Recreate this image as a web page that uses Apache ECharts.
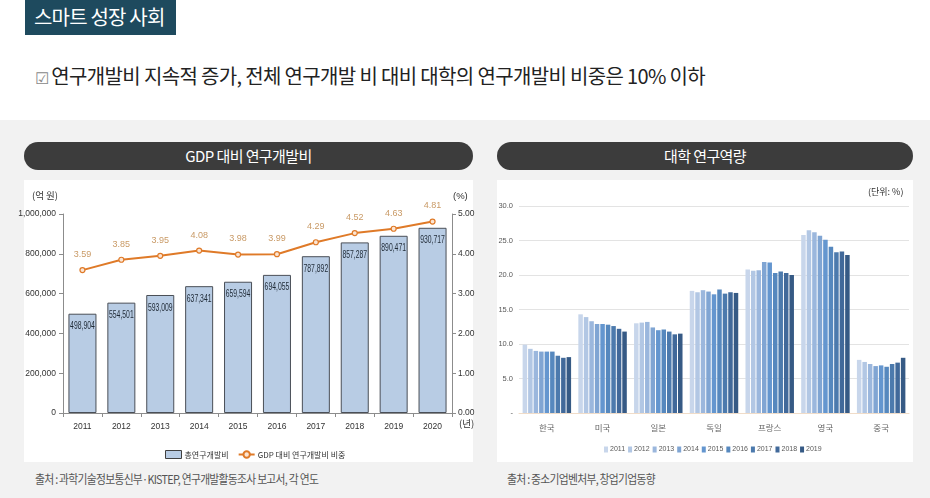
<!DOCTYPE html>
<html><head><meta charset="utf-8">
<script src="https://cdn.jsdelivr.net/npm/echarts@6/dist/echarts.min.js"></script>
<style>
html,body{margin:0;padding:0;width:930px;height:498px;overflow:hidden;background:#fff;font-family:"Noto Sans CJK KR","Noto Sans",sans-serif;}
.abs{position:absolute;}
#hdr{left:25px;top:0;width:151px;height:35px;background:#1e4a5e;color:#fff;font-size:20px;line-height:33px;text-indent:9px;letter-spacing:-0.8px;}
#sub{left:35px;top:61px;font-size:20px;color:#222;letter-spacing:-0.65px;white-space:nowrap;}
#sub .cb{color:#888;font-size:16px;margin-right:3px;}
#panel{left:0;top:120px;width:930px;height:378px;background:#f2f2f2;}
.pill{top:142px;height:28px;background:#3c3c3c;border-radius:14px;color:#fff;font-size:15px;line-height:28px;text-align:center;letter-spacing:-0.6px;}
.box{top:180px;height:282px;background:#fff;}
.src{top:470px;font-size:12px;color:#555;letter-spacing:-0.8px;white-space:nowrap;transform:scaleX(0.9);transform-origin:0 0;}
#chart{left:0;top:0;width:930px;height:498px;}
</style></head>
<body>
<div id="hdr" class="abs">스마트 성장 사회</div>
<div id="sub" class="abs"><span class="cb">☑</span>연구개발비 지속적 증가, 전체 연구개발 비 대비 대학의 연구개발비 비중은 10% 이하</div>
<div id="panel" class="abs"></div>
<div class="abs pill" style="left:24px;width:449px;">GDP 대비 연구개발비</div>
<div class="abs pill" style="left:497px;width:416px;">대학 연구역량</div>
<div class="abs box" style="left:24px;width:449px;"></div>
<div class="abs box" style="left:497px;width:416px;"></div>
<div class="abs src" style="left:35px;">출처 : 과학기술정보통신부·KISTEP, 연구개발활동조사 보고서, 각 연도</div>
<div class="abs src" style="left:507px;">출처 : 중소기업벤처부, 창업기업동향</div>
<div id="chart" class="abs"></div>
<script>
// ---- Left chart data ----
const years = ['2011','2012','2013','2014','2015','2016','2017','2018','2019','2020'];
const rdTotal = [498904, 554501, 593009, 637341, 659594, 694055, 787892, 857287, 890471, 930717];
const rdGdpRatio = [3.59, 3.85, 3.95, 4.08, 3.98, 3.99, 4.29, 4.52, 4.63, 4.81];
const leftTicks = [0, 200000, 400000, 600000, 800000, 1000000];
const rightTicks = [0, 1, 2, 3, 4, 5];

// ---- Right chart data ----
const countries = ['한국','미국','일본','독일','프랑스','영국','중국'];
const seriesYears = ['2011','2012','2013','2014','2015','2016','2017','2018','2019'];
const korea   = [9.9, 9.3, 9.0, 8.9, 8.9, 8.9, 8.3, 8.0, 8.1];
const usa     = [14.3, 13.9, 13.3, 12.9, 12.9, 12.8, 12.6, 12.2, 11.8];
const japan   = [13.0, 13.1, 13.2, 12.4, 12.0, 12.1, 11.8, 11.4, 11.5];
const germany = [17.7, 17.5, 17.8, 17.6, 17.2, 17.9, 17.3, 17.5, 17.4];
const france  = [20.8, 20.6, 20.7, 21.9, 21.8, 20.3, 20.5, 20.3, 20.0];
const uk      = [25.8, 26.5, 26.2, 25.7, 25.1, 24.1, 23.3, 23.4, 22.9];
const china   = [7.7, 7.4, 7.1, 6.8, 6.9, 6.7, 7.1, 7.3, 8.0];
const blues = ['#c8d6eb','#b2c7e4','#9bb7dd','#80a5d3','#6496cf','#5688be','#4c7aad','#41699a','#365a85'];

const byCountry = [korea, usa, japan, germany, france, uk, china];

const chart = echarts.init(document.getElementById('chart'), null, {renderer:'canvas'});
const lat = '"Liberation Sans",Arial,sans-serif';
const kfont = '"Noto Sans CJK KR",sans-serif';
const fmtNum = v => v.toLocaleString('en-US');

const rightSeries = seriesYears.map((y, i) => ({
  name: y, type: 'bar', xAxisIndex: 1, yAxisIndex: 2,
  data: byCountry.map(c => c[i]),
  itemStyle: {color: blues[i]},
  barGap: '22%', barCategoryGap: '13%'
}));

chart.setOption({
  animation: false,
  textStyle: {fontFamily: lat},
  grid: [
    {left: 63, right: 478, top: 214, bottom: 85},
    {left: 519, right: 21, top: 206, bottom: 85}
  ],
  legend: [
    {
      data: [
        {name: '총연구개발비', icon: 'rect', itemStyle: {color: '#b8cce4', borderColor: '#404040', borderWidth: 1}},
        {name: 'GDP 대비 연구개발비 비중'}
      ],
      left: 160, top: 445, itemWidth: 16, itemHeight: 8, itemGap: 9,
      textStyle: {fontSize: 8, color: '#333', fontFamily: kfont, padding: [0,0,0,-2]}
    },
    {
      data: seriesYears, left: 599, top: 441, itemWidth: 4, itemHeight: 6, itemGap: 3,
      icon: 'rect',
      textStyle: {fontSize: 7, color: '#595959', fontFamily: lat, padding: [0,0,0,-3]}
    }
  ],
  xAxis: [
    {
      type: 'category', gridIndex: 0, data: years,
      axisLine: {lineStyle: {color: '#8c8c8c'}},
      axisTick: {show: true, alignWithLabel: false, length: 4, lineStyle: {color: '#8c8c8c'}},
      axisLabel: {fontSize: 8.5, color: '#333', margin: 9}
    },
    {
      type: 'category', gridIndex: 1, data: countries,
      axisLine: {lineStyle: {color: '#f0dcc8'}},
      axisTick: {show: false},
      axisLabel: {fontSize: 8.5, color: '#666', margin: 11, fontFamily: kfont}
    }
  ],
  yAxis: [
    {
      type: 'value', gridIndex: 0, min: 0, max: 1000000, interval: 200000,
      axisLine: {show: true, lineStyle: {color: '#8c8c8c'}},
      axisTick: {show: true, length: 4, lineStyle: {color: '#8c8c8c'}},
      splitLine: {show: false},
      axisLabel: {fontSize: 8.5, color: '#333', margin: 7, formatter: fmtNum}
    },
    {
      type: 'value', gridIndex: 0, position: 'right', min: 0, max: 5, interval: 1,
      axisLine: {show: true, lineStyle: {color: '#8c8c8c'}},
      axisTick: {show: true, length: 4, lineStyle: {color: '#8c8c8c'}},
      splitLine: {show: false},
      axisLabel: {fontSize: 8.5, color: '#333', margin: 6, formatter: v => v.toFixed(2)}
    },
    {
      type: 'value', gridIndex: 1, min: 0, max: 30, interval: 5,
      axisLine: {show: false}, axisTick: {show: false},
      splitLine: {lineStyle: {color: '#e3e3e3'}},
      axisLabel: {fontSize: 7.5, color: '#595959', margin: 6, formatter: v => v === 0 ? '-' : v.toFixed(1)}
    }
  ],
  series: [
    {
      name: '총연구개발비', type: 'bar', xAxisIndex: 0, yAxisIndex: 0, data: rdTotal,
      barWidth: '72%',
      itemStyle: {color: '#b8cce4', borderColor: '#4a4f57', borderWidth: 1}
    },
    {
      name: 'barValueLabels', type: 'custom', xAxisIndex: 0, yAxisIndex: 0,
      data: years.map((y, i) => [y, rdTotal[i]]),
      renderItem: (params, api) => {
        const pt = api.coord([api.value(0), api.value(1)]);
        return {
          type: 'text', x: pt[0], y: pt[1] + 7, scaleX: 0.62, z2: 10,
          style: {text: fmtNum(api.value(1)), fontSize: 11, fill: '#1f2a36',
                  align: 'center', verticalAlign: 'top', fontFamily: lat}
        };
      },
      silent: true, tooltip: {show: false}
    },
    {
      name: 'GDP 대비 연구개발비 비중', type: 'line', xAxisIndex: 0, yAxisIndex: 1, data: rdGdpRatio,
      lineStyle: {color: '#df7a28', width: 2},
      itemStyle: {color: '#fbe5d3', borderColor: '#df7a28', borderWidth: 1.2},
      symbol: 'circle', symbolSize: 5,
      label: {show: true, position: 'top', distance: 8, fontSize: 9, color: '#c99a66',
        formatter: p => p.value.toFixed(2)}
    },
    ...rightSeries
  ],
  graphic: [
    {type: 'text', left: 32, top: 191, style: {text: '(억 원)', fontSize: 9.5, fill: '#333', fontFamily: kfont}},
    {type: 'text', left: 453, top: 191, style: {text: '(%)', fontSize: 9.5, fill: '#333', fontFamily: lat}},
    {type: 'text', left: 459, top: 419, style: {text: '(년)', fontSize: 9.5, fill: '#333', fontFamily: kfont}},
    {type: 'text', left: 868, top: 187, style: {text: '(단위: %)', fontSize: 9, fill: '#333', fontFamily: kfont}}
  ]
});
</script>
</body></html>
